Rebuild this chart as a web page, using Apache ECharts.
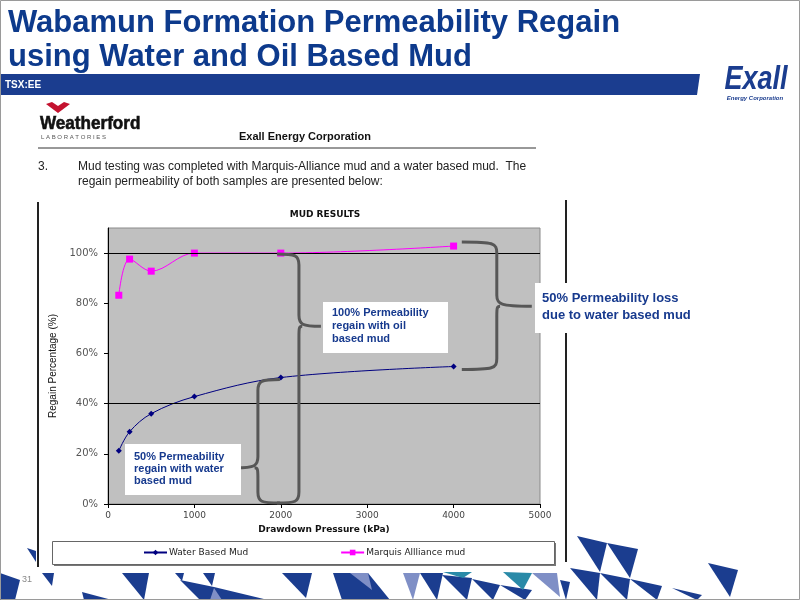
<!DOCTYPE html>
<html><head><meta charset="utf-8">
<script src="https://cdn.jsdelivr.net/npm/echarts@6/dist/echarts.min.js"></script>
<style>html,body{margin:0;padding:0;background:#fff}#c{width:800px;height:600px}</style>
</head><body><div id="c"></div>
<script>
// ---- data ----
const pressure = [125, 250, 500, 1000, 2000, 4000];
const waterRegain = [21.2, 28.8, 36.0, 42.8, 50.4, 54.8];
const oilRegain = [83.2, 97.6, 92.8, 100, 100, 102.8];
const seriesNames = ['Water Based Mud', 'Marquis Allliance mud'];
const yTickValues = [0, 20, 40, 60, 80, 100];
const gridLineValues = [40, 100];
// braces: [x spine, y top, y bottom, y tip, direction]
const braceSpans = [
  [2210, 99.6, 0.4, 70.8, 1],
  [1735, 49.6, 0.4, 14.4, -1],
  [4500, 104.4, 53.6, 78.8, 1]
];
const braceArm = [22, 22, 35];

const navy = '#1b3d8f';
const textBlue = '#173a8e';

function renderBrace(params, api) {
  const xs = api.value(0), d = api.value(4);
  const top = api.coord([xs, api.value(1)]);
  const bot = api.coord([xs, api.value(2)]);
  const tip = api.coord([xs, api.value(3)]);
  const x = top[0], yT = top[1], yB = bot[1], yM = tip[1];
  const w = braceArm[params.dataIndex], r = 11;
  const p = [
    'M', x - d * w, yT, 'C', x - d * r * 0.3, yT, x, yT + 1, x, yT + r,
    'L', x, yM - r, 'C', x, yM - 2, x + d * r * 0.3, yM, x + d * w, yM,
    'M', x + d * r * 0.3, yM, 'C', x, yM, x, yM + 2, x, yM + r,
    'L', x, yB - r, 'C', x, yB - 1, x - d * r * 0.3, yB, x - d * w, yB
  ].join(' ');
  return { type: 'path', shape: { pathData: p }, style: { stroke: '#575757', lineWidth: 3, fill: 'none' } };
}

// decorative triangles (slide background art)
const triDark = [
  [[0,573],[20,580],[15,600],[0,600]], [[27,548],[36,551],[36,562]], [[42,573],[54,573],[52,586]],
  [[82,592],[112,600],[84,600]], [[122,573],[149,573],[144,600]], [[175,573],[184,573],[182,581]],
  [[203,573],[215,573],[212,586]], [[180,580],[214,587],[268,600],[200,600]],
  [[282,573],[312,573],[306,598]], [[333,573],[368,573],[390,600],[342,600]],
  [[420,573],[443,573],[437,600]], [[442,575],[472,578],[467,600]], [[472,579],[500,585],[493,600]],
  [[500,585],[532,590],[525,600]], [[577,536],[607,543],[600,572]], [[607,543],[638,549],[630,578]],
  [[570,568],[600,573],[597,600]], [[600,573],[630,579],[627,600]], [[630,579],[662,586],[657,600]],
  [[672,588],[702,595],[697,600]], [[708,563],[738,570],[730,597]], [[560,580],[570,582],[566,600]]
];
const triLight = [[[403,573],[420,573],[413,600]], [[532,573],[557,573],[560,597]], [[350,573],[368,573],[372,590]], [[214,588],[222,600],[210,600]]];
const triTeal = [[[443,572],[472,572],[463,578]], [[503,572],[532,573],[523,590]]];

const graphics = [];
// slide border
graphics.push({ type: 'rect', shape: { x: 0.5, y: 0.5, width: 799, height: 599 }, style: { fill: 'none', stroke: '#9a9a9a', lineWidth: 1 }, z: 50 });
// header
graphics.push({ type: 'text', x: 8, y: 23, style: { text: 'Wabamun Formation Permeability Regain', font: 'bold 31px "Liberation Sans", Arial', fill: '#0d3a8c', verticalAlign: 'middle' } });
graphics.push({ type: 'text', x: 8, y: 57, style: { text: 'using Water and Oil Based Mud', font: 'bold 31px "Liberation Sans", Arial', fill: '#0d3a8c', verticalAlign: 'middle' } });
graphics.push({ type: 'polygon', shape: { points: [[0,74],[700,74],[697,95],[0,95]] }, style: { fill: navy } });
graphics.push({ type: 'text', x: 5, y: 85, style: { text: 'TSX:EE', font: 'bold 10px "Liberation Sans", Arial', fill: '#fff', verticalAlign: 'middle' } });
graphics.push({ type: 'text', x: 756, y: 80, scaleX: 0.82, style: { text: 'Exall', font: 'italic bold 33px "Liberation Sans", Arial', fill: navy, verticalAlign: 'middle', align: 'center' } });
graphics.push({ type: 'text', x: 755, y: 98, style: { text: 'Energy Corporation', font: 'italic bold 6px "Liberation Sans", Arial', fill: navy, verticalAlign: 'middle', align: 'center' } });
// Weatherford logo
graphics.push({ type: 'polygon', shape: { points: [[46,104],[52,102],[58,106],[64,102],[70,104],[58,113]] }, style: { fill: '#c4122f' } });
graphics.push({ type: 'text', x: 40, y: 124, scaleX: 0.9, style: { text: 'Weatherford', font: 'bold 19px "Liberation Sans", Arial', fill: '#111', stroke: '#111', lineWidth: 0.6, verticalAlign: 'middle' } });
graphics.push({ type: 'text', x: 41, y: 137, style: { text: 'L A B O R A T O R I E S', font: '6px "Liberation Sans", Arial', fill: '#555', verticalAlign: 'middle' } });
graphics.push({ type: 'text', x: 305, y: 137, style: { text: 'Exall Energy Corporation', font: 'bold 11px "Liberation Sans", Arial', fill: '#111', verticalAlign: 'middle', align: 'center' } });
graphics.push({ type: 'line', shape: { x1: 38, y1: 148, x2: 536, y2: 148 }, style: { stroke: '#333', lineWidth: 1 } });
graphics.push({ type: 'text', x: 38, y: 167, style: { text: '3.', font: '12px "Liberation Sans", Arial', fill: '#222', verticalAlign: 'middle' } });
graphics.push({ type: 'text', x: 78, y: 167, style: { text: 'Mud testing was completed with Marquis-Alliance mud and a water based mud.  The', font: '12px "Liberation Sans", Arial', fill: '#222', verticalAlign: 'middle' } });
graphics.push({ type: 'text', x: 78, y: 182, style: { text: 'regain permeability of both samples are presented below:', font: '12px "Liberation Sans", Arial', fill: '#222', verticalAlign: 'middle' } });
// chart frame
graphics.push({ type: 'line', shape: { x1: 38, y1: 202, x2: 38, y2: 567 }, style: { stroke: '#222', lineWidth: 2 } });
graphics.push({ type: 'line', shape: { x1: 566, y1: 200, x2: 566, y2: 562 }, style: { stroke: '#222', lineWidth: 2 } });
graphics.push({ type: 'text', x: 325, y: 215, style: { text: 'MUD RESULTS', font: 'bold 9px "DejaVu Sans"', fill: '#111', verticalAlign: 'middle', align: 'center' } });
// legend box
graphics.push({ type: 'rect', shape: { x: 54, y: 543, width: 502, height: 23 }, style: { fill: '#777' } });
graphics.push({ type: 'rect', shape: { x: 52.5, y: 541.5, width: 502, height: 23 }, style: { fill: '#fff', stroke: '#666', lineWidth: 1 } });
// annotation boxes
function noteBox(x, y, w, h, tx, ty, lines, font, lh) {
  graphics.push({ type: 'rect', shape: { x: x, y: y, width: w, height: h }, style: { fill: '#fff' }, z: 100 });
  graphics.push({ type: 'text', x: tx, y: ty, style: { text: lines, font: font, fill: textBlue, lineHeight: lh, verticalAlign: 'top' }, z: 101 });
}
noteBox(323, 302, 125, 51, 332, 306, '100% Permeability\nregain with oil\nbased mud', 'bold 11px "Liberation Sans", Arial', 13);
noteBox(125, 444, 116, 51, 134, 451, '50% Permeability\nregain with water\nbased mud', 'bold 11px "Liberation Sans", Arial', 12);
noteBox(535, 283, 190, 50, 542, 290, '50% Permeability loss\ndue to water based mud', 'bold 13px "Liberation Sans", Arial', 17);
// decorations
triDark.forEach(p => graphics.push({ type: 'polygon', shape: { points: p }, style: { fill: navy } }));
triLight.forEach(p => graphics.push({ type: 'polygon', shape: { points: p }, style: { fill: '#7f8fc6' } }));
triTeal.forEach(p => graphics.push({ type: 'polygon', shape: { points: p }, style: { fill: '#2a8aa8' } }));
graphics.push({ type: 'text', x: 22, y: 580, style: { text: '31', font: '9px "Liberation Sans", Arial', fill: '#888', verticalAlign: 'middle' } });

const chart = echarts.init(document.getElementById('c'), null, { renderer: 'canvas' });
chart.setOption({
  backgroundColor: '#fff',
  animation: false,
  graphic: graphics,
  grid: { left: 108, right: 260, top: 228, bottom: 96, show: true, backgroundColor: '#c0c0c0', borderColor: '#8a8a8a', borderWidth: 1 },
  legend: {
    data: seriesNames, left: 143, top: 548, padding: 0, itemWidth: 23, itemHeight: 7, itemGap: 92,
    textStyle: { fontFamily: 'DejaVu Sans', fontSize: 9, color: '#222', padding: [0, 0, 0, -3] }
  },
  xAxis: {
    type: 'value', min: 0, max: 5000, interval: 1000,
    name: 'Drawdown Pressure (kPa)', nameLocation: 'middle', nameGap: 21,
    nameTextStyle: { fontFamily: 'DejaVu Sans', fontWeight: 'bold', fontSize: 9, color: '#111' },
    axisLine: { lineStyle: { color: '#000', width: 1 } },
    axisTick: { length: 4, lineStyle: { color: '#000' } },
    axisLabel: { formatter: v => String(v), fontFamily: 'DejaVu Sans', fontSize: 9, color: '#444', margin: 7 },
    splitLine: { show: false }
  },
  yAxis: {
    type: 'value', min: 0, max: 110,
    name: 'Regain Percentage (%)', nameLocation: 'middle', nameGap: 42,
    nameTextStyle: { fontFamily: '"Liberation Sans Narrow", "Liberation Sans"', fontSize: 10, color: '#111' },
    axisLine: { lineStyle: { color: '#000', width: 1 } },
    axisTick: { length: 4, customValues: yTickValues, lineStyle: { color: '#000' } },
    axisLabel: { customValues: yTickValues, formatter: v => v + '%', fontFamily: 'DejaVu Sans', fontSize: 10, color: '#555', margin: 10 },
    splitLine: { show: false }
  },
  series: [
    {
      name: seriesNames[0], type: 'line', smooth: 0.35,
      data: pressure.map((p, i) => [p, waterRegain[i]]),
      symbol: 'diamond', symbolSize: 6, color: '#000080',
      lineStyle: { width: 1, color: '#000080' },
      markLine: { silent: true, symbol: 'none', label: { show: false }, lineStyle: { color: '#000', width: 1, type: 'solid' }, data: gridLineValues.map(v => ({ yAxis: v })) },
      z: 3
    },
    {
      name: seriesNames[1], type: 'line', smooth: 0.35,
      data: pressure.map((p, i) => [p, oilRegain[i]]),
      symbol: 'rect', symbolSize: 7, color: '#ff00ff',
      lineStyle: { width: 1, color: '#ff00ff' },
      z: 4
    },
    {
      type: 'custom', name: 'braces', renderItem: renderBrace, clip: false, silent: true,
      data: braceSpans, encode: { x: 0, y: [1, 2, 3] }, z: 6
    }
  ]
});
</script></body></html>
